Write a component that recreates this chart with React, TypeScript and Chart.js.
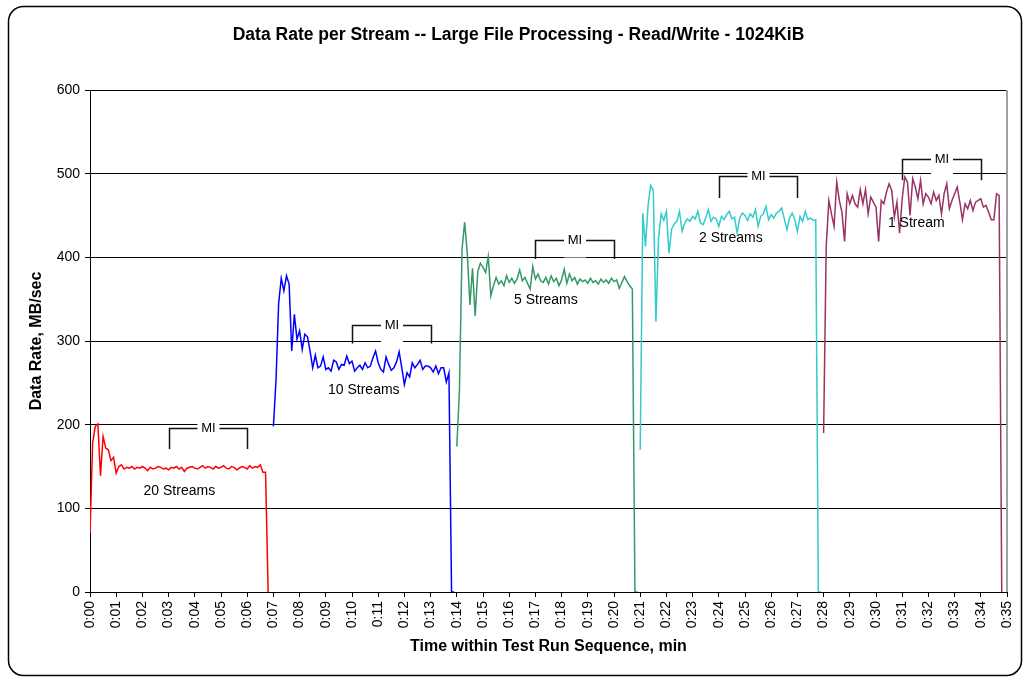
import React, { useEffect, useRef } from "react";
import { Chart, registerables } from "chart.js";

Chart.register(...registerables);

const FONT = "'Liberation Sans', Arial, Helvetica, sans-serif";

// minutes between samples in every series
const SAMPLE_STEP = 0.1;

const streamNames = ["20 Streams", "10 Streams", "5 Streams", "2 Streams", "1 Stream"];
const streamColors = ["#ff0000", "#0000ff", "#339966", "#33cccc", "#993366"];
const streamStart = [0, 7, 14, 21, 28];

const rate20 = [
  70, 178, 198, 201, 139, 186, 172, 170, 157, 161,
  142, 150, 152, 147, 149, 148, 150, 147, 149, 148,
  150, 148, 145, 149, 147, 148, 150, 149, 147, 148,
  146, 149, 148, 150, 147, 149, 144, 148, 149, 150,
  148, 147, 149, 151, 148, 150, 149, 147, 150, 148,
  149, 151, 148, 147, 150, 149, 146, 148, 150, 149,
  147, 151, 148, 150, 149, 152, 143, 143, 0,
];

const rate10 = [
  198, 253, 345, 375, 360, 378, 368, 288, 332, 302,
  312, 290, 308, 305, 288, 268, 283, 268, 270, 281,
  266, 268, 264, 277, 275, 266, 272, 271, 282, 273,
  276, 264, 268, 271, 266, 274, 268, 270, 280, 288,
  274, 266, 263, 281, 272, 265, 268, 275, 287, 268,
  248, 262, 257, 274, 268, 272, 277, 266, 270, 270,
  268, 263, 270, 261, 268, 268, 251, 262, 0, 0,
];

const rate5 = [
  174, 240, 410, 442, 405, 343, 387, 330, 383, 393,
  388, 382, 401, 354, 366, 376, 368, 372, 366, 378,
  370, 375, 369, 374, 385, 372, 376, 369, 362, 389,
  374, 380, 372, 370, 376, 368, 378, 371, 375, 366,
  373, 386, 369, 380, 372, 376, 368, 374, 371, 373,
  369, 375, 370, 372, 368, 374, 370, 373, 369, 375,
  371, 373, 363, 370, 377, 371, 366, 362, 0, 0,
];

const rate2 = [
  170, 453, 413, 462, 486, 480, 323, 423, 452, 444,
  455, 405, 434, 440, 443, 455, 431, 441, 446, 443,
  449, 446, 455, 441, 439, 447, 457, 443, 448, 446,
  437, 449, 445, 451, 455, 446, 448, 429, 447, 453,
  450, 444, 452, 448, 457, 437, 449, 452, 461, 445,
  451, 447, 453, 455, 459, 446, 433, 447, 453, 445,
  431, 449, 443, 455, 445, 447, 444, 445, 0, 0,
];

const rate1 = [
  190, 413, 468, 452, 437, 490, 468, 454, 419, 476,
  464, 474, 464, 460, 481, 464, 481, 452, 472, 466,
  460, 419, 468, 464, 478, 488, 480, 448, 466, 429,
  470, 496, 490, 450, 494, 484, 470, 492, 464, 476,
  472, 464, 478, 468, 474, 452, 476, 488, 458, 468,
  476, 484, 466, 445, 464, 458, 468, 456, 466, 468,
  470, 460, 462, 454, 445, 445, 476, 474, 0,
];

const xTickLabels = [
  "0:00", "0:01", "0:02", "0:03", "0:04", "0:05", "0:06", "0:07", "0:08", "0:09",
  "0:10", "0:11", "0:12", "0:13", "0:14", "0:15", "0:16", "0:17", "0:18", "0:19",
  "0:20", "0:21", "0:22", "0:23", "0:24", "0:25", "0:26", "0:27", "0:28", "0:29",
  "0:30", "0:31", "0:32", "0:33", "0:34", "0:35",
];

// stream label anchors (minutes, MB/sec)
const labelTime = [3.41, 10.45, 17.4, 24.46, 31.54];
const labelRate = [120, 241, 349, 423, 441];

// measurement interval brackets (minutes, MB/sec)
const miStart = [3, 10, 17, 24, 31];
const miEnd = [6, 13, 20, 27, 34];
const miTop = [196, 319, 421, 497, 518];
const miBottom = [171, 297, 398, 471, 492];

const seriesValues = [rate20, rate10, rate5, rate2, rate1];

const framePlugin = {
  id: "frame",
  beforeDraw(chart: any) {
    const ctx = chart.ctx;
    const w = chart.width;
    const h = chart.height;
    ctx.save();
    ctx.fillStyle = "#ffffff";
    ctx.fillRect(0, 0, w, h);
    const l = 8.5, t = 6.5, r = 1021.5, b = 675.5, rad = 15;
    ctx.beginPath();
    ctx.moveTo(l + rad, t);
    ctx.lineTo(r - rad, t);
    ctx.arcTo(r, t, r, t + rad, rad);
    ctx.lineTo(r, b - rad);
    ctx.arcTo(r, b, r - rad, b, rad);
    ctx.lineTo(l + rad, b);
    ctx.arcTo(l, b, l, b - rad, rad);
    ctx.lineTo(l, t + rad);
    ctx.arcTo(l, t, l + rad, t, rad);
    ctx.closePath();
    ctx.strokeStyle = "#000000";
    ctx.lineWidth = 1.5;
    ctx.stroke();
    ctx.restore();
  },
};

const annotationPlugin = {
  id: "annotations",
  beforeDatasetsDraw(chart: any) {
    const ctx = chart.ctx;
    const xs = chart.scales.x;
    const ys = chart.scales.y;
    const area = chart.chartArea;
    ctx.save();
    // right edge of plot area
    ctx.strokeStyle = "#a0a0a0";
    ctx.lineWidth = 2;
    ctx.beginPath();
    ctx.moveTo(area.right, area.top);
    ctx.lineTo(area.right, area.bottom);
    ctx.stroke();

    for (let i = 0; i < miStart.length; i++) {
      const x1 = Math.round(xs.getPixelForValue(miStart[i])) + 0.5;
      const x2 = Math.round(xs.getPixelForValue(miEnd[i])) + 0.5;
      const yt = Math.round(ys.getPixelForValue(miTop[i])) + 0.5;
      const yb = ys.getPixelForValue(miBottom[i]);
      ctx.strokeStyle = "#111111";
      ctx.lineWidth = 1.5;
      ctx.beginPath();
      ctx.moveTo(x1, yb);
      ctx.lineTo(x1, yt);
      ctx.lineTo(x2, yt);
      ctx.lineTo(x2, yb);
      ctx.stroke();
      const mx = (x1 + x2) / 2;
      ctx.fillStyle = "#ffffff";
      ctx.fillRect(mx - 11, yt - 9, 22, 26);
      ctx.fillStyle = "#000000";
      ctx.font = `13px ${FONT}`;
      ctx.textAlign = "center";
      ctx.textBaseline = "middle";
      ctx.fillText("MI", mx, yt);
    }
    ctx.restore();
  },
  afterDatasetsDraw(chart: any) {
    const ctx = chart.ctx;
    const xs = chart.scales.x;
    const ys = chart.scales.y;
    ctx.save();
    ctx.fillStyle = "#000000";
    ctx.font = `14px ${FONT}`;
    ctx.textAlign = "center";
    ctx.textBaseline = "middle";
    for (let i = 0; i < streamNames.length; i++) {
      ctx.fillText(streamNames[i], xs.getPixelForValue(labelTime[i]), ys.getPixelForValue(labelRate[i]));
    }
    ctx.restore();
  },
};

export default function App() {
  const ref = useRef<HTMLCanvasElement>(null);

  useEffect(() => {
    const canvas = ref.current;
    if (!canvas) return;
    Chart.defaults.font.family = FONT;
    Chart.defaults.color = "#000000";

    const datasets = seriesValues.map((vals, k) => ({
      label: streamNames[k],
      data: vals.map((v, i) => ({ x: streamStart[k] + i * SAMPLE_STEP, y: v })),
      borderColor: streamColors[k],
      backgroundColor: streamColors[k],
      borderWidth: 1.5,
      pointRadius: 0,
      tension: 0,
      fill: false,
    }));

    const chart = new Chart(canvas, {
      type: "line",
      data: { datasets },
      plugins: [framePlugin, annotationPlugin],
      options: {
        animation: false,
        responsive: false,
        devicePixelRatio: 1,
        layout: { padding: { left: 30, right: 17, top: 0, bottom: 5 } },
        plugins: {
          legend: { display: false },
          tooltip: { enabled: false },
          title: {
            display: true,
            text: "Data Rate per Stream -- Large File Processing - Read/Write - 1024KiB",
            font: { size: 17.5, weight: "bold", family: FONT, lineHeight: 1.2 },
            color: "#000000",
            padding: { top: 24.5, bottom: 44.5 },
          },
        },
        scales: {
          x: {
            type: "linear",
            min: 0,
            max: 35,
            afterFit: (scale: any) => {
              scale.height = 80;
              scale.paddingRight = 0;
              scale.paddingLeft = 0;
            },
            ticks: {
              stepSize: 1,
              autoSkip: false,
              minRotation: 90,
              maxRotation: 90,
              padding: 4,
              color: "#000000",
              font: { size: 14, family: FONT },
              callback: (v: any) => xTickLabels[Math.round(Number(v))] ?? "",
            },
            grid: {
              drawOnChartArea: false,
              drawTicks: true,
              tickLength: 5,
              color: "#000000",
              lineWidth: 1,
            },
            border: { display: true, color: "#000000", width: 1 },
            title: {
              display: true,
              text: "Time within Test Run Sequence, min",
              color: "#000000",
              font: { size: 16, weight: "bold", family: FONT, lineHeight: 1.2 },
              padding: { top: 0, bottom: 16 },
            },
          },
          y: {
            type: "linear",
            min: 0,
            max: 600,
            afterFit: (scale: any) => {
              scale.width = 60;
            },
            ticks: {
              stepSize: 100,
              padding: 5,
              color: "#000000",
              font: { size: 14, family: FONT },
            },
            grid: {
              drawOnChartArea: true,
              drawTicks: true,
              tickLength: 5,
              color: "#000000",
              lineWidth: 1,
            },
            border: { display: true, color: "#000000", width: 1 },
            title: {
              display: true,
              text: "Data Rate, MB/sec",
              color: "#000000",
              font: { size: 16, weight: "bold", family: FONT, lineHeight: 1.2 },
              padding: { top: -3, bottom: 0 },
            },
          },
        },
      },
    } as any);

    return () => chart.destroy();
  }, []);

  return (
    <div style={{ position: "absolute", left: 0, top: 0, width: 1024, height: 677, background: "#ffffff" }}>
      <canvas ref={ref} width={1024} height={677} style={{ display: "block", width: 1024, height: 677 }} />
    </div>
  );
}
